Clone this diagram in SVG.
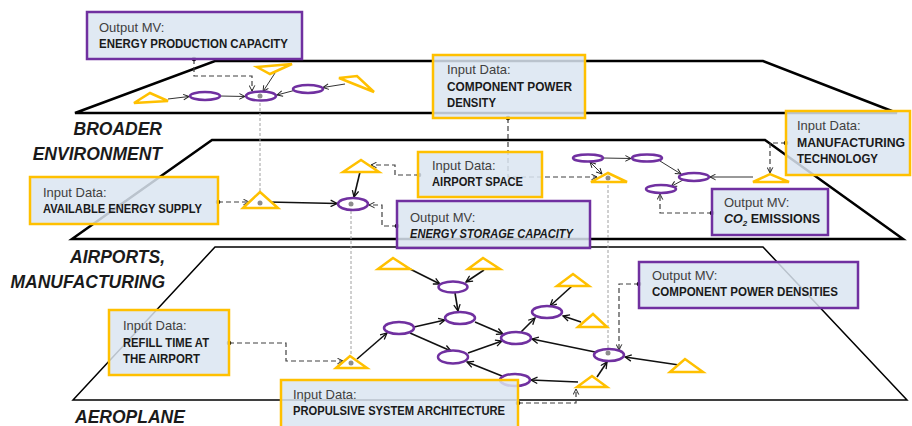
<svg xmlns="http://www.w3.org/2000/svg" width="912" height="426" viewBox="0 0 912 426">
<style>
.plane{fill:none;stroke:#000;stroke-linejoin:miter}
.lvl{font-family:"Liberation Sans",Arial,sans-serif;font-size:17.5px;font-weight:bold;font-style:italic;fill:#1a1a1a}
.box rect{fill:#dae5f1;fill-opacity:0.85;stroke-width:2.5}
.box.in rect{stroke:#ffc000}
.box.out rect{stroke:#7030a0}
.box text{font-family:"Liberation Sans",Arial,sans-serif}
.t1{font-size:13px;fill:#404040}
.t2{font-size:12.5px;font-weight:bold;fill:#1a1a1a}
.ell{fill:#fff;stroke:#7030a0;stroke-width:2.5}
.tri{fill:#fff;stroke:#ffc000;stroke-width:2.5;stroke-linejoin:miter}
.gdot{fill:#8c8c8c}
.dash{fill:none;stroke:#404040;stroke-width:1.2;stroke-dasharray:5 3}
.gray{fill:none;stroke:#a0a0a0;stroke-width:1;stroke-dasharray:3 2}
.thin{fill:none;stroke:#333;stroke-width:1}
.thick{fill:none;stroke:#111;stroke-width:1.6}
</style>
<defs>
<marker id="ah" viewBox="0 0 10 10" refX="9" refY="5" markerWidth="7" markerHeight="7" markerUnits="userSpaceOnUse" orient="auto-start-reverse">
<path d="M1,1 L9,5 L1,9" fill="none" stroke="#222" stroke-width="1.4"/>
</marker>
<marker id="ahb" viewBox="0 0 10 10" refX="9" refY="5" markerWidth="8" markerHeight="8" markerUnits="userSpaceOnUse" orient="auto-start-reverse">
<path d="M1,1 L9,5 L1,9" fill="none" stroke="#111" stroke-width="1.6"/>
</marker>
</defs>
<rect width="912" height="426" fill="#fff"/>

<g id="planes">
<polygon class="plane" stroke-width="2.5" points="75,113 215,61 763,61 897,113"/>
<polygon class="plane" stroke-width="2.5" points="72,239 212,140 765,140 903,239"/>
<polygon class="plane" stroke-width="1.5" points="73,400 215,247 763,247 907,400"/>
</g>

<g id="levels">
<text class="lvl" x="162" y="135" text-anchor="end">BROADER</text>
<text class="lvl" x="162" y="160" text-anchor="end">ENVIRONMENT</text>
<text class="lvl" x="165" y="263" text-anchor="end">AIRPORTS,</text>
<text class="lvl" x="165" y="288" text-anchor="end">MANUFACTURING</text>
<text class="lvl" x="75" y="423">AEROPLANE</text>
</g>

<g id="connectors">
<path class="gray" d="M260,98 V201"/>
<path class="gray" d="M351,206 V361"/>
<path class="gray" d="M608,180 V351"/>

<path class="dash" d="M194,59 V76 H252 V91" marker-end="url(#ah)"/>
<path class="dash" d="M508,118 V177 H597" marker-end="url(#ah)"/>
<path class="dash" d="M419,175 H395 V165 H371" marker-end="url(#ah)"/>
<path class="dash" d="M218,202 H249" marker-end="url(#ah)"/>
<path class="dash" d="M397,226 H382 V205 H369" marker-end="url(#ah)"/>
<path class="dash" d="M786,143 H770 V173" marker-end="url(#ah)"/>
<path class="dash" d="M712,213 H660 V194" marker-end="url(#ah)"/>
<path class="dash" d="M229,343 H286 V361 H343" marker-end="url(#ah)"/>
<path class="dash" d="M639,284 H619 V350" marker-end="url(#ah)"/>
<path class="dash" d="M518,403 H576 V389" marker-end="url(#ah)"/>
<g fill="#000">
<circle cx="194" cy="59" r="2.3"/>
<circle cx="508" cy="118" r="2.3"/>
<circle cx="419" cy="175" r="2.3"/>
<circle cx="218" cy="202" r="2.3"/>
<circle cx="397" cy="226" r="2.3"/>
<circle cx="786" cy="143" r="2.3"/>
<circle cx="712" cy="213" r="2.3"/>
<circle cx="229" cy="343" r="2.3"/>
<circle cx="639" cy="284" r="2.3"/>
<circle cx="518" cy="403" r="2.3"/>
</g>

<path class="thin" d="M168,99 L189,96.5" marker-end="url(#ah)"/>
<path class="thin" d="M220,96 L245,96.5" marker-end="url(#ah)"/>
<path class="thin" d="M275,73 L263,91.5" marker-end="url(#ah)"/>
<path class="thin" d="M294,90.5 L277,95" marker-end="url(#ah)"/>
<path class="thin" d="M345,84 L323,87.5" marker-end="url(#ah)"/>

<path class="thin" d="M590,162 L602,174" marker-start="url(#ah)" marker-end="url(#ah)"/>
<path class="thin" d="M603,158 L631,158.5" marker-end="url(#ah)"/>
<path class="thin" d="M660,161 L681,174" marker-end="url(#ah)"/>
<path class="thin" d="M753,177 L710,177" marker-end="url(#ah)"/>
<path class="thin" d="M683,180 L671,186.5" marker-end="url(#ah)"/>

<path class="thick" d="M360,172 L354,197" marker-end="url(#ahb)"/>
<path class="thick" d="M268,202 L337,203.5" marker-end="url(#ahb)"/>

<path class="thick" d="M408,268 L440,284" marker-end="url(#ahb)"/>
<path class="thick" d="M484,270 L466,282" marker-end="url(#ahb)"/>
<path class="thick" d="M455,293 L458,311" marker-end="url(#ahb)"/>
<path class="thick" d="M357,359 L387,333" marker-end="url(#ahb)"/>
<path class="thick" d="M414,327 L445,320" marker-end="url(#ahb)"/>
<path class="thick" d="M410,333 L451,351" marker-end="url(#ahb)"/>
<path class="thick" d="M475,322 L503,334" marker-end="url(#ahb)"/>
<path class="thick" d="M468,353 L502,341" marker-end="url(#ahb)"/>
<path class="thick" d="M521,332 L535,318" marker-end="url(#ahb)"/>
<path class="thick" d="M572,286 L550,306" marker-end="url(#ahb)"/>
<path class="thick" d="M581,322 L563,316" marker-end="url(#ahb)"/>
<path class="thick" d="M595,352 L532,339" marker-end="url(#ahb)"/>
<path class="thick" d="M679,365 L625,357" marker-end="url(#ahb)"/>
<path class="thick" d="M597,377 L607,362" marker-end="url(#ahb)"/>
<path class="thick" d="M578,382 L531,380" marker-end="url(#ahb)"/>
<path class="thick" d="M502,376 L467,362" marker-end="url(#ahb)"/>
</g>

<g id="n-top-t1"><polygon class="tri" stroke-width="2" points="134,103 150,93 168,101"/></g>
<g id="n-top-e1"><ellipse class="ell" stroke-width="2" cx="205" cy="96" rx="15" ry="4"/></g>
<g id="n-top-e2"><ellipse class="ell" stroke-width="2" cx="261" cy="96" rx="15" ry="4.5"/><circle class="gdot" cx="260" cy="96" r="2.5"/></g>
<g id="n-top-t2"><polygon class="tri" stroke-width="2" points="257,67 292,64 270,74"/></g>
<g id="n-top-e3"><ellipse class="ell" stroke-width="2" cx="308" cy="89" rx="15" ry="4"/></g>
<g id="n-top-t3"><polygon class="tri" stroke-width="2" points="339,78 357,76 374,92"/></g>

<g id="n-air-t1"><polygon class="tri" points="243,208 260,192 278,208"/><circle class="gdot" cx="260" cy="203" r="2.5"/></g>
<g id="n-air-t2"><polygon class="tri" points="343,172 361,160 379,172"/></g>
<g id="n-air-e1"><ellipse class="ell" cx="353" cy="204" rx="15" ry="6"/><circle class="gdot" cx="351" cy="204" r="2.5"/></g>
<g id="n-air-t3"><polygon class="tri" points="591,182 608,173 627,182"/><circle class="gdot" cx="608" cy="178" r="2.5"/></g>
<g id="n-air-e2"><ellipse class="ell" stroke-width="2" cx="588" cy="158" rx="15" ry="3.5"/></g>
<g id="n-air-e3"><ellipse class="ell" stroke-width="2" cx="647" cy="158" rx="15" ry="3.5"/></g>
<g id="n-air-e4"><ellipse class="ell" stroke-width="2" cx="694" cy="177" rx="15" ry="4"/></g>
<g id="n-air-e5"><ellipse class="ell" stroke-width="2" cx="661" cy="189" rx="15" ry="4"/></g>
<g id="n-air-t4"><polygon class="tri" points="753,182 770,174 789,182"/></g>

<g id="n-ac-t1"><polygon class="tri" points="378,269 393,258 410,269"/></g>
<g id="n-ac-t2"><polygon class="tri" points="468,269 483,258 500,269"/></g>
<g id="n-ac-t3"><polygon class="tri" points="557,286 573,274 589,286"/></g>
<g id="n-ac-t4"><polygon class="tri" points="578,327 593,314 607,327"/></g>
<g id="n-ac-t5"><polygon class="tri" points="336,368 350,356 367,368"/><circle class="gdot" cx="351" cy="363" r="2.5"/></g>
<g id="n-ac-t6"><polygon class="tri" points="577,387 592,376 607,387"/></g>
<g id="n-ac-t7"><polygon class="tri" points="670,372 685,359 703,372"/></g>
<g id="n-ac-e1"><ellipse class="ell" cx="453" cy="287" rx="14.5" ry="5.5"/></g>
<g id="n-ac-e2"><ellipse class="ell" cx="460" cy="318" rx="15" ry="6"/></g>
<g id="n-ac-e3"><ellipse class="ell" cx="399" cy="328" rx="15" ry="6"/></g>
<g id="n-ac-e4"><ellipse class="ell" cx="453" cy="357" rx="15" ry="6.5"/></g>
<g id="n-ac-e5"><ellipse class="ell" cx="516" cy="338" rx="15" ry="6"/></g>
<g id="n-ac-e6"><ellipse class="ell" cx="547" cy="312" rx="15" ry="6"/></g>
<g id="n-ac-e7"><ellipse class="ell" cx="515" cy="380" rx="15" ry="6"/></g>
<g id="n-ac-e8"><ellipse class="ell" cx="609" cy="355" rx="15" ry="6"/><circle class="gdot" cx="608" cy="353" r="2.5"/></g>

<g id="box-energy-production" class="box out">
<rect x="87" y="12" width="215" height="47"/>
<text class="t1" x="99" y="32">Output MV:</text>
<text class="t2" x="99" y="48" textLength="189" lengthAdjust="spacingAndGlyphs">ENERGY PRODUCTION CAPACITY</text>
</g>
<g id="box-component-power-density" class="box in">
<rect x="433" y="55" width="152" height="63"/>
<text class="t1" x="447" y="74">Input Data:</text>
<text class="t2" x="447" y="91" textLength="125" lengthAdjust="spacingAndGlyphs">COMPONENT POWER</text>
<text class="t2" x="447" y="107" textLength="49" lengthAdjust="spacingAndGlyphs">DENSITY</text>
</g>
<g id="box-available-energy" class="box in">
<rect x="30" y="177" width="188" height="47"/>
<text class="t1" x="43" y="197">Input Data:</text>
<text class="t2" x="43" y="213" textLength="159" lengthAdjust="spacingAndGlyphs">AVAILABLE ENERGY SUPPLY</text>
</g>
<g id="box-airport-space" class="box in">
<rect x="418" y="152" width="124" height="45"/>
<text class="t1" x="432" y="170">Input Data:</text>
<text class="t2" x="432" y="186" textLength="91" lengthAdjust="spacingAndGlyphs">AIRPORT SPACE</text>
</g>
<g id="box-energy-storage" class="box out">
<rect x="397" y="201" width="193" height="47"/>
<text class="t1" x="410" y="222">Output MV:</text>
<text class="t2" x="410" y="238" font-style="italic" textLength="163" lengthAdjust="spacingAndGlyphs">ENERGY STORAGE CAPACITY</text>
</g>
<g id="box-manufacturing" class="box in">
<rect x="786" y="111" width="124" height="64"/>
<text class="t1" x="797" y="130">Input Data:</text>
<text class="t2" x="797" y="147" textLength="108" lengthAdjust="spacingAndGlyphs">MANUFACTURING</text>
<text class="t2" x="797" y="163" textLength="81" lengthAdjust="spacingAndGlyphs">TECHNOLOGY</text>
</g>
<g id="box-co2" class="box out">
<rect x="712" y="189" width="116" height="46"/>
<text class="t1" x="724" y="207">Output MV:</text>
<text class="t2" x="724" y="223" font-size="11.8"><tspan font-style="italic">CO</tspan><tspan font-style="italic" font-size="8" dy="3">2</tspan><tspan dy="-3"> EMISSIONS</tspan></text>
</g>
<g id="box-refill" class="box in">
<rect x="109" y="310" width="120" height="65"/>
<text class="t1" x="123" y="330">Input Data:</text>
<text class="t2" x="123" y="347" textLength="86" lengthAdjust="spacingAndGlyphs">REFILL TIME AT</text>
<text class="t2" x="123" y="363" textLength="77" lengthAdjust="spacingAndGlyphs">THE AIRPORT</text>
</g>
<g id="box-component-power-densities" class="box out">
<rect x="639" y="262" width="219" height="46"/>
<text class="t1" x="652" y="280">Output MV:</text>
<text class="t2" x="652" y="296" textLength="186" lengthAdjust="spacingAndGlyphs">COMPONENT POWER DENSITIES</text>
</g>
<g id="box-propulsive" class="box in">
<rect x="281" y="380" width="237" height="50"/>
<text class="t1" x="293" y="399">Input Data:</text>
<text class="t2" x="293" y="415" textLength="212" lengthAdjust="spacingAndGlyphs">PROPULSIVE SYSTEM ARCHITECTURE</text>
</g>
</svg>
